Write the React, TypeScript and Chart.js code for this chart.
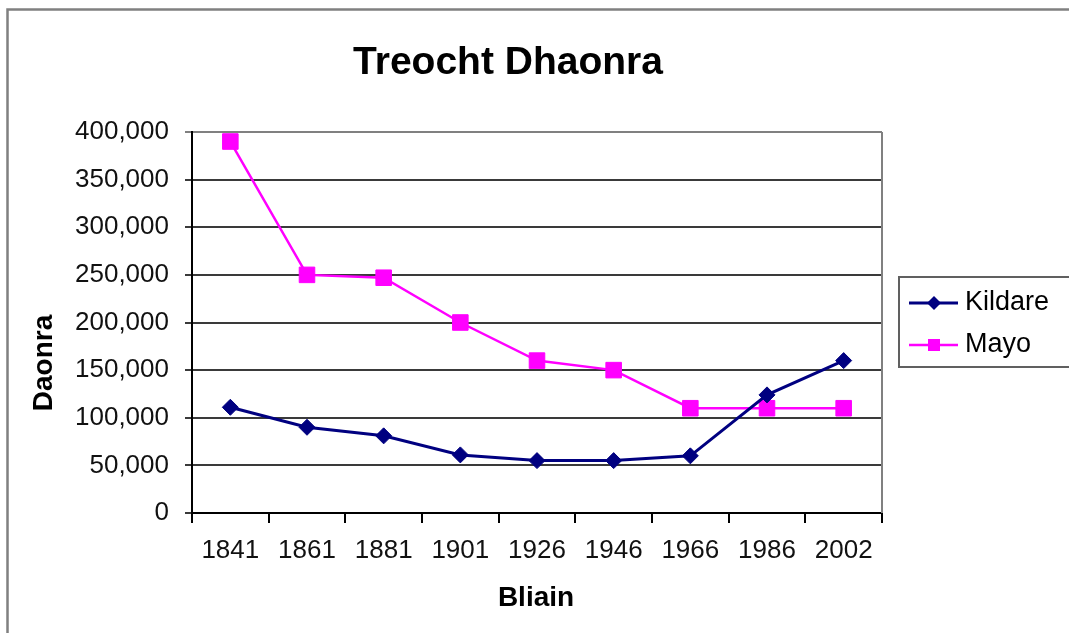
import React, { useEffect, useRef } from 'react';
import { Chart, registerables } from 'chart.js';

Chart.register(...registerables);

// ---- data ----
const years = ['1841', '1861', '1881', '1901', '1926', '1946', '1966', '1986', '2002'];
const kildare = [111000, 90000, 81000, 61000, 55000, 55000, 60000, 124000, 160000];
const mayo = [390000, 250000, 247000, 200000, 160000, 150000, 110000, 110000, 110000];
const seriesNames = ['Kildare', 'Mayo'];
const seriesColors = ['#000080', '#FF00FF'];
const chartTitle = 'Treocht Dhaonra';
const xTitle = 'Bliain';
const yTitle = 'Daonra';
const yMin = 0;
const yMax = 400000;
const yStep = 50000;

const FONT = '"Liberation Sans", Arial, Helvetica, sans-serif';

function drawMarker(ctx: CanvasRenderingContext2D, style: string, x: number, y: number, r: number, color: string) {
  ctx.fillStyle = color;
  ctx.beginPath();
  if (style === 'rectRot') {
    ctx.moveTo(x - r, y);
    ctx.lineTo(x, y - r);
    ctx.lineTo(x + r, y);
    ctx.lineTo(x, y + r);
    ctx.closePath();
  } else {
    ctx.rect(x - r, y - r, 2 * r, 2 * r);
  }
  ctx.fill();
}

const decorPlugin = {
  id: 'decor',
  beforeDraw(chart: any) {
    const ctx = chart.ctx as CanvasRenderingContext2D;
    ctx.save();
    ctx.fillStyle = '#ffffff';
    ctx.fillRect(0, 0, chart.width, chart.height);
    ctx.strokeStyle = '#808080';
    ctx.lineWidth = 2.5;
    ctx.strokeRect(7.5, 9.5, chart.width + 50, chart.height + 50);
    ctx.restore();
  },
  beforeDatasetsDraw(chart: any) {
    const ctx = chart.ctx as CanvasRenderingContext2D;
    const a = chart.chartArea;
    ctx.save();
    ctx.strokeStyle = '#808080';
    ctx.lineWidth = 2;
    ctx.beginPath();
    ctx.moveTo(a.right, a.top);
    ctx.lineTo(a.right, a.bottom);
    ctx.stroke();
    ctx.restore();
  },
  afterDraw(chart: any) {
    const ctx = chart.ctx as CanvasRenderingContext2D;
    ctx.save();
    ctx.fillStyle = '#000';
    ctx.textAlign = 'center';
    ctx.textBaseline = 'middle';
    // chart title
    ctx.font = `bold 39px ${FONT}`;
    ctx.fillText(chartTitle, 508, 63);
    // x axis title
    ctx.font = `bold 28px ${FONT}`;
    ctx.fillText(xTitle, 536, 598);
    // y axis title
    ctx.save();
    ctx.translate(44, 363);
    ctx.rotate(-Math.PI / 2);
    ctx.fillText(yTitle, 0, 0);
    ctx.restore();

    // legend
    const lx = 899, ly = 277, lw = 220, lh = 90;
    ctx.strokeStyle = '#606060';
    ctx.lineWidth = 2;
    ctx.strokeRect(lx, ly, lw, lh);
    const rows = [303, 345];
    chart.data.datasets.forEach((ds: any, i: number) => {
      const y = rows[i];
      ctx.strokeStyle = ds.borderColor;
      ctx.lineWidth = ds.borderWidth;
      ctx.beginPath();
      ctx.moveTo(909, y);
      ctx.lineTo(958, y);
      ctx.stroke();
      drawMarker(ctx, ds.pointStyle, 934, y, ds.pointStyle === 'rectRot' ? 7 : 6, ds.pointBackgroundColor);
      ctx.fillStyle = '#000';
      ctx.font = `27px ${FONT}`;
      ctx.textAlign = 'left';
      ctx.textBaseline = 'middle';
      ctx.fillText(ds.label, 965, y);
    });
    ctx.restore();
  },
};

export default function App() {
  const ref = useRef<HTMLCanvasElement | null>(null);

  useEffect(() => {
    if (!ref.current) return;
    Chart.defaults.font.family = FONT;
    const chart = new Chart(ref.current, {
      type: 'line',
      data: {
        labels: years,
        datasets: [
          {
            label: seriesNames[0],
            data: kildare,
            borderColor: seriesColors[0],
            backgroundColor: seriesColors[0],
            borderWidth: 3,
            pointStyle: 'rectRot',
            pointRadius: 8,
            pointBackgroundColor: seriesColors[0],
            pointBorderColor: seriesColors[0],
            pointBorderWidth: 1,
            tension: 0,
          },
          {
            label: seriesNames[1],
            data: mayo,
            borderColor: seriesColors[1],
            backgroundColor: seriesColors[1],
            borderWidth: 2.5,
            pointStyle: 'rect',
            pointRadius: 11,
            pointBackgroundColor: seriesColors[1],
            pointBorderColor: seriesColors[1],
            pointBorderWidth: 1,
            tension: 0,
          },
        ],
      },
      options: {
        responsive: false,
        animation: false,
        devicePixelRatio: 1,
        layout: { padding: { left: 0, right: 187, top: 132, bottom: 0 } },
        plugins: {
          legend: { display: false },
          title: { display: false },
          tooltip: { enabled: false },
        },
        scales: {
          x: {
            type: 'category',
            offset: true,
            grid: {
              display: true,
              offset: true,
              drawOnChartArea: false,
              drawTicks: true,
              tickLength: 10,
              color: '#000',
              lineWidth: 2,
            },
            border: { display: true, color: '#000', width: 2 },
            ticks: {
              color: '#111',
              font: { size: 26, family: FONT },
              padding: 12,
              maxRotation: 0,
              autoSkip: false,
            },
            afterFit: (scale: any) => {
              scale.height = 120;
            },
          },
          y: {
            min: yMin,
            max: yMax,
            grid: {
              display: true,
              drawTicks: true,
              tickLength: 7,
              lineWidth: 2,
              color: (c: any) => (c.tick && c.tick.value === yMax ? '#808080' : '#3a3a3a'),
            },
            border: { display: true, color: '#000', width: 2 },
            ticks: {
              stepSize: yStep,
              color: '#111',
              font: { size: 26, family: FONT },
              padding: 16,
              callback: (v: any) => Number(v).toLocaleString('en-US'),
            },
            afterFit: (scale: any) => {
              scale.width = 192;
            },
          },
        },
      },
      plugins: [decorPlugin],
    });
    return () => chart.destroy();
  }, []);

  return (
    <div style={{ position: 'absolute', left: 0, top: 0, width: 1069, height: 633 }}>
      <canvas ref={ref} width={1069} height={633} style={{ display: 'block' }} />
    </div>
  );
}
